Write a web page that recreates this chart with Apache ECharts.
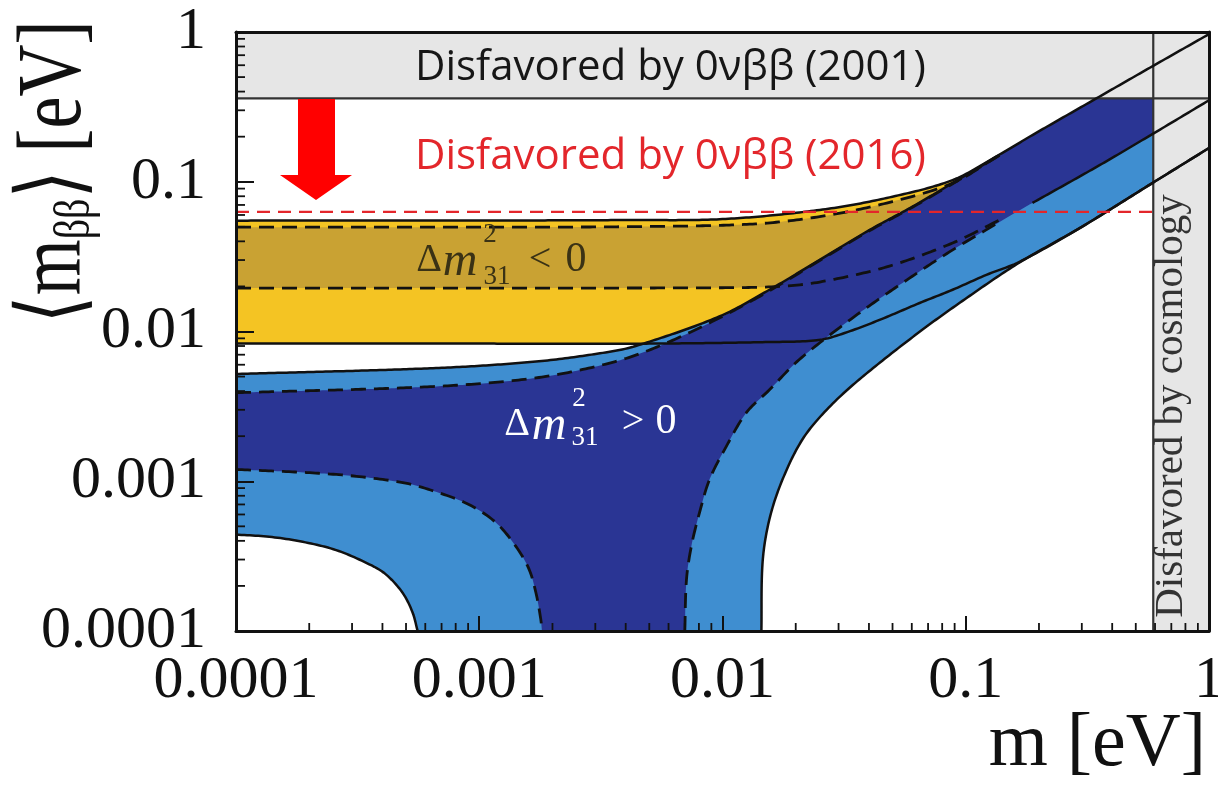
<!DOCTYPE html>
<html><head><meta charset="utf-8">
<script src="https://cdn.jsdelivr.net/npm/echarts@6/dist/echarts.min.js"></script>
<style>html,body{margin:0;padding:0;background:#fff}#c{width:1218px;height:789px}</style>
</head><body><div id="c"></div>
<script>
// ---------- tick labels ----------
const xTickLabels = ['0.0001', '0.001', '0.01', '0.1', '1'];
const yTickLabels = ['0.0001', '0.001', '0.01', '0.1', '1'];

// ---------- boundaries: [m (eV), <m_bb> (eV)] ----------
// common large-m tails
const topTail    = [[0.188, 0.205], [0.344, 0.36], [0.585, 0.59], [1, 0.968]];
const midTail    = [[0.188, 0.0722], [0.355, 0.129], [0.585, 0.208], [1, 0.35]];
const bottomTail = [[0.3, 0.05], [0.585, 0.098], [1, 0.168]];

// inverted hierarchy (Δm²31 < 0)
const ihMax3 = [[1e-4, 0.055], [0.001, 0.0551], [0.004, 0.0555], [0.01, 0.0563], [0.0251, 0.0648], [0.0473, 0.0779], [0.0883, 0.1026], [0.1377, 0.152]];
const ihMaxBf = [[1e-4, 0.0497], [0.001, 0.0498], [0.004, 0.0501], [0.0133, 0.0522], [0.0251, 0.0585], [0.0473, 0.0721], [0.0883, 0.098], [0.1377, 0.151]];
const ihMinBf = [[1e-4, 0.0195], [0.001, 0.0195], [0.01, 0.0196], [0.0172, 0.0200], [0.0251, 0.0214], [0.0473, 0.027], [0.0883, 0.039], [0.1377, 0.0556]];
const ihMin3 = [[1e-4, 0.0083], [0.001, 0.0083], [0.005, 0.0083], [0.015, 0.0085], [0.0251, 0.0088], [0.0343, 0.0102], [0.0473, 0.0125], [0.0646, 0.0155], [0.0883, 0.019], [0.1216, 0.0239], [0.1664, 0.0292]];

// normal hierarchy (Δm²31 > 0)
const nhMax3 = [[1e-4, 0.0052], [0.000664, 0.0057], [0.00171, 0.0063], [0.00322, 0.0072], [0.0044, 0.0080], [0.0097, 0.0126], [0.0156, 0.019], [0.0251, 0.0301], [0.0403, 0.0477], [0.0604, 0.0682], [0.0883, 0.098], [0.1377, 0.151]];
const nhMaxBf = [[1e-4, 0.0039], [0.000664, 0.0043], [0.00171, 0.0049], [0.0035, 0.0062], [0.0055, 0.0080], [0.0097, 0.0123], [0.0156, 0.0187], [0.0251, 0.0298], [0.0403, 0.0472], [0.0604, 0.0676], [0.0883, 0.097], [0.1377, 0.15]];
const nhMinBfL = [[1e-4, 0.0012], [0.000258, 0.00111], [0.000485, 0.00098], [0.000664, 0.00085], [0.000906, 0.0007], [0.00117, 0.00053], [0.00141, 0.00037], [0.0016, 0.00026], [0.00171, 0.00018], [0.00179, 0.00012], [0.00181, 0.0001]];
const nhMin3L = [[1e-4, 0.00044], [0.000137, 0.000426], [0.000188, 0.000394], [0.000258, 0.000347], [0.000353, 0.000279], [0.000413, 0.000239], [0.000484, 0.00018], [0.000532, 0.000133], [0.000558, 0.0001]];
const nhMinBfR = [[0.0070, 0.0001], [0.00711, 0.00022], [0.00745, 0.00037], [0.00805, 0.00062], [0.00885, 0.00103], [0.01037, 0.00171], [0.01253, 0.00287], [0.0156, 0.00408], [0.0207, 0.0065], [0.0343, 0.01234], [0.0535, 0.0205], [0.0857, 0.034], [0.1377, 0.0539]];
const nhMin3R = [[0.01445, 0.0001], [0.01462, 0.00029], [0.0156, 0.00056], [0.01766, 0.00103], [0.0213, 0.0019], [0.0268, 0.0030], [0.0366, 0.0048], [0.0646, 0.00995], [0.1038, 0.0173], [0.1664, 0.0289]];

// limits
const limit2016 = [[1e-4, 0.063], [0.59, 0.063]];
const topBand = [[1e-4, 0.36], [1, 1]];
const cosmoBand = [[0.59, 1e-4], [1, 1]];
const topBandEdge = [[1e-4, 0.36], [1, 0.36]];
const cosmoBandEdge = [[0.59, 1e-4], [0.59, 1]];

// colours
const C = {yellow: '#f4c423', gold: '#c9a233', dblue: '#2a3594', lblue: '#3f8ed0', band: '#e6e6e6', red: '#e3262b'};

// ---------- helpers ----------
function norm(v) { const l = Math.hypot(v[0], v[1]); return l > 0 ? [v[0] / l, v[1] / l] : [0, 0]; }
function smooth(pts) {
  const n = pts.length; if (n < 3) return pts.slice();
  const out = [];
  for (let i = 0; i < n - 1; i++) {
    const p0 = pts[Math.max(i - 1, 0)], p1 = pts[i], p2 = pts[i + 1], p3 = pts[Math.min(i + 2, n - 1)];
    const len = Math.hypot(p2[0] - p1[0], p2[1] - p1[1]);
    const t1 = norm([p2[0] - p0[0], p2[1] - p0[1]]), t2 = norm([p3[0] - p1[0], p3[1] - p1[1]]);
    const k = len * 0.33;
    const c1 = [p1[0] + t1[0] * k, p1[1] + t1[1] * k], c2 = [p2[0] - t2[0] * k, p2[1] - t2[1] * k];
    const steps = Math.max(2, Math.ceil(len / 3));
    for (let s = 0; s < steps; s++) {
      const t = s / steps, u = 1 - t;
      out.push([u*u*u*p1[0] + 3*u*u*t*c1[0] + 3*u*t*t*c2[0] + t*t*t*p2[0],
                u*u*u*p1[1] + 3*u*u*t*c1[1] + 3*u*t*t*c2[1] + t*t*t*p2[1]]);
    }
  }
  out.push(pts[n - 1]);
  return out;
}
function rev(a) { return a.slice().reverse(); }
function areaSeries(edges, color, z) {
  return {type: 'custom', coordinateSystem: 'cartesian2d', silent: true, clip: true, z: z,
    data: edges.flat(), encode: {x: 0, y: 1},
    renderItem: function (params, api) {
      if (params.dataIndex !== 0) return null;
      let pts = [];
      edges.forEach(e => { pts = pts.concat(smooth(e.map(p => api.coord(p)))); });
      return {type: 'polygon', shape: {points: pts}, style: {fill: color}};
    }};
}
function curveSeries(pts, color, width, dash, z) {
  return {type: 'custom', coordinateSystem: 'cartesian2d', silent: true, clip: true, z: z,
    data: pts, encode: {x: 0, y: 1},
    renderItem: function (params, api) {
      if (params.dataIndex !== 0) return null;
      return {type: 'polyline', shape: {points: smooth(pts.map(p => api.coord(p)))},
        style: {stroke: color, lineWidth: width, lineDash: dash || null, fill: 'none'}};
    }};
}
function rectSeries(r, color, z) {
  return {type: 'custom', coordinateSystem: 'cartesian2d', silent: true, clip: true, z: z,
    data: r, encode: {x: 0, y: 1},
    renderItem: function (params, api) {
      if (params.dataIndex !== 0) return null;
      const a = api.coord(r[0]), b = api.coord(r[1]);
      return {type: 'rect', shape: {x: Math.min(a[0], b[0]), y: Math.min(a[1], b[1]), width: Math.abs(b[0] - a[0]), height: Math.abs(b[1] - a[1])}, style: {fill: color}};
    }};
}
// minor ticks (2..9 × decade)
const minorVals = [];
for (let d = -4; d < 0; d++) for (let k = 2; k <= 9; k++) minorVals.push(+(k * Math.pow(10, d)).toPrecision(3));
function minorTickSeries(axis) {
  return {type: 'custom', coordinateSystem: 'cartesian2d', silent: true, clip: false, z: 12,
    data: minorVals.map(v => axis === 'x' ? [v, 1e-4] : [1e-4, v]), encode: {x: 0, y: 1},
    renderItem: function (params, api) {
      const p = api.coord([api.value(0), api.value(1)]);
      const s = axis === 'x' ? {x1: p[0], y1: p[1], x2: p[0], y2: p[1] - 8} : {x1: p[0], y1: p[1], x2: p[0] + 9, y2: p[1]};
      return {type: 'line', shape: s, style: {stroke: '#111', lineWidth: 1.8}};
    }};
}

const K = '#111';
const dash = [15, 8];
const LW = 2.5;
const series = [
  areaSeries([ihMax3.concat(topTail), rev(ihMin3.concat(bottomTail))], C.yellow, 2),
  areaSeries([ihMaxBf.concat(topTail), rev(ihMinBf.concat(midTail))], C.gold, 3),
  areaSeries([nhMax3.concat(topTail), rev(nhMin3R.concat(bottomTail)), rev(nhMin3L)], C.lblue, 4),
  areaSeries([nhMaxBf.concat(topTail), rev(nhMinBfR.concat(midTail)), rev(nhMinBfL)], C.dblue, 5),
  rectSeries(topBand, C.band, 6),
  rectSeries(cosmoBand, C.band, 6),
  curveSeries(topBandEdge, '#333', 2.2, null, 7),
  curveSeries(cosmoBandEdge, '#333', 2.2, null, 7),
  curveSeries(ihMax3.concat(topTail), K, LW, null, 8),
  curveSeries(ihMin3.concat(bottomTail), K, LW, null, 8),
  curveSeries(nhMax3, K, LW, null, 8),
  curveSeries(nhMin3L, K, LW, null, 8),
  curveSeries(nhMin3R.concat(bottomTail), K, LW, null, 8),
  curveSeries(midTail, K, LW, null, 8),
  curveSeries(ihMaxBf, K, 2.8, dash, 8),
  curveSeries(ihMinBf, K, 2.8, dash, 8),
  curveSeries(nhMaxBf, K, 2.8, dash, 8),
  curveSeries(nhMinBfL, K, 2.8, dash, 8),
  curveSeries(nhMinBfR, K, 2.8, dash, 8),
  curveSeries(limit2016, C.red, 2.2, [13, 8], 9),
  minorTickSeries('x'),
  minorTickSeries('y')
];

const serif = '"Liberation Serif", "DejaVu Serif", serif';
function lbl(arr) { return v => arr[Math.round(Math.log10(v)) + 4] || ''; }
const axisCommon = {type: 'log', logBase: 10, min: 1e-4, max: 1, z: 10,
  splitLine: {show: false}, minorTick: {show: false}, minorSplitLine: {show: false}};

const olive = '#3a3215';
function t(x, y, text, font, fill, extra) {
  return Object.assign({type: 'text', z: 50, x: x, y: y, style: {text: text, font: font, fill: fill, textAlign: 'center', textVerticalAlign: 'middle'}}, extra || {});
}

const option = {
  animation: false,
  backgroundColor: '#fff',
  grid: {left: 236, right: 9, top: 32, bottom: 158, outerBoundsMode: 'none', containLabel: false},
  xAxis: [
    Object.assign({}, axisCommon, {position: 'bottom',
      axisLine: {show: true, lineStyle: {color: K, width: 3}},
      axisTick: {show: true, inside: true, length: 15, lineStyle: {color: K, width: 2}},
      axisLabel: {show: true, formatter: lbl(xTickLabels), margin: 20, color: K, fontFamily: serif, fontSize: 60, showMinLabel: true, showMaxLabel: true, hideOverlap: false}}),
    Object.assign({}, axisCommon, {position: 'top',
      axisLine: {show: true, lineStyle: {color: K, width: 3}}, axisTick: {show: false}, axisLabel: {show: false}})
  ],
  yAxis: [
    Object.assign({}, axisCommon, {position: 'left',
      axisLine: {show: true, lineStyle: {color: K, width: 3}},
      axisTick: {show: true, inside: true, length: 18, lineStyle: {color: K, width: 2}},
      axisLabel: {show: true, formatter: lbl(yTickLabels), margin: 30, color: K, fontFamily: serif, fontSize: 60, showMinLabel: true, showMaxLabel: true, hideOverlap: false}}),
    Object.assign({}, axisCommon, {position: 'right',
      axisLine: {show: true, lineStyle: {color: K, width: 3}}, axisTick: {show: false}, axisLabel: {show: false}})
  ],
  series: series.map(s => Object.assign(s, {xAxisIndex: 0, yAxisIndex: 0})),
  graphic: [
    {type: 'polygon', z: 50, shape: {points: [[298, 99], [335, 99], [335, 175], [352, 175], [316, 200], [280, 175], [298, 175]]}, style: {fill: '#ff0000'}},
    {type: 'text', z: 50, x: 415, y: 68, style: {text: 'Disfavored by 0νββ (2001)', font: '42px "Open Sans"', fill: '#161616', textAlign: 'left', textVerticalAlign: 'middle'}},
    {type: 'text', z: 50, x: 415, y: 157, style: {text: 'Disfavored by 0νββ (2016)', font: '42px "Open Sans"', fill: C.red, textAlign: 'left', textVerticalAlign: 'middle'}},
    t(1171, 406, 'Disfavored by cosmology', '41px ' + serif, '#333', {rotation: Math.PI / 2}),
    // Δm²31 < 0
    t(429, 260, 'Δ', '40px ' + serif, olive),
    t(460, 262, 'm', 'italic 48px ' + serif, olive),
    t(490, 235, '2', '27px ' + serif, olive),
    t(497, 277, '31', '27px ' + serif, olive),
    t(540, 260, '<', '40px ' + serif, olive),
    t(576, 260, '0', '42px ' + serif, olive),
    // Δm²31 > 0
    t(517, 424, 'Δ', '40px ' + serif, '#fff'),
    t(549, 426, 'm', 'italic 48px ' + serif, '#fff'),
    t(579, 399, '2', '27px ' + serif, '#fff'),
    t(585, 438, '31', '27px ' + serif, '#fff'),
    t(633, 422, '>', '40px ' + serif, '#fff'),
    t(666, 422, '0', '42px ' + serif, '#fff'),
    // axis titles
    {type: 'text', z: 50, x: 56, y: 172, rotation: Math.PI / 2, scaleY: 1.25,
      style: {text: '⟨m{s|ββ}⟩ [eV]', font: '72px ' + serif, fill: K, textAlign: 'center', textVerticalAlign: 'middle',
        rich: {s: {font: '40px ' + serif, fill: K, verticalAlign: 'bottom', lineHeight: 40}}}},
    {type: 'text', z: 50, x: 1206, y: 745, style: {text: 'm [eV]', font: '76px ' + serif, fill: K, textAlign: 'right', textVerticalAlign: 'middle'}}
  ]
};
const chart = echarts.init(document.getElementById('c'), null, {renderer: 'canvas'});
chart.setOption(option);
</script></body></html>
